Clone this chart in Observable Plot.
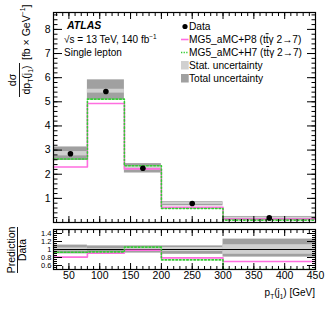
<!DOCTYPE html>
<html><head><meta charset="utf-8">
<script src="https://cdn.jsdelivr.net/npm/d3@7"></script>
<script src="https://cdn.jsdelivr.net/npm/@observablehq/plot@0.6"></script>
<style>
body{margin:0;background:#fff;}
#wrap{position:relative;width:332px;height:319px;font-family:"Liberation Sans",Arial,sans-serif;background:#fff;overflow:hidden;}
#wrap svg{position:absolute;left:0;}
</style></head><body><div id="wrap"></div>
<script>
// ---- data ----
const binLo = [25, 80, 140, 200, 300];
const binHi = [80, 140, 200, 300, 450];
const dataVal = [2.85, 5.43, 2.25, 0.79, 0.19];
const totUp  = [3.13, 5.91, 2.44, 0.86, 0.25];
const totDn  = [2.57, 5.08, 2.05, 0.69, 0.12];
const statUp = [2.94, 5.52, 2.33, 0.83, 0.22];
const statDn = [2.76, 5.36, 2.17, 0.75, 0.16];
const p8 = [2.30, 4.93, 2.22, 0.63, 0.14];
const h7 = [2.63, 5.11, 2.35, 0.58, 0.10];
// ratio panel (Prediction / Data)
const p8Ratio = [0.81, 0.91, 0.98, 0.79, 0.70];
const h7Ratio = [0.93, 0.94, 1.06, 0.74, 0.50];
const ratTotUp  = [1.11, 1.09, 1.09, 1.09, 1.26];
const ratTotDn  = [0.89, 0.91, 0.91, 0.88, 0.81];
const ratStatUp = [1.04, 1.02, 1.04, 1.05, 1.12];
const ratStatDn = [0.96, 0.98, 0.96, 0.95, 0.88];
const mainYMajor = [0,1,2,3,4,5,6,7,8];
const mainYLabels = [1,2,3,4,5,6,7,8];
const ratioYLabels = [0.6, 0.8, 1, 1.2, 1.4];
const xMajor = [50,100,150,200,250,300,350,400,450];

const PINK = "#ff6ee0", GREEN = "#33cc33", TOT = "#a0a0a0", STAT = "#d0d0d0";
const bins = binLo.map((lo,i)=>({lo, hi: binHi[i], mid:(lo+binHi[i])/2,
  data: dataVal[i], totUp: totUp[i], totDn: totDn[i], statUp: statUp[i], statDn: statDn[i],
  rTU: ratTotUp[i], rTD: ratTotDn[i], rSU: ratStatUp[i], rSD: ratStatDn[i]}));
const steps = vals => binLo.map((x,i)=>({x, y: vals[i]})).concat([{x: binHi[binHi.length-1], y: vals[vals.length-1]}]);
const rng = (a,b,s) => d3.range(Math.round((b-a)/s)+1).map(i=>+(a+i*s).toFixed(4));
const xMinor = rng(30, 450, 10);
const fontStyle = {fontFamily:"Liberation Sans, Arial, sans-serif", color:"black", background:"transparent", overflow:"visible"};

const tickMarks = (yMajor, yMinor, majLen, minLen, xMajLen, xMinLen) => [
  Plot.axisY(yMajor, {anchor:"left", tickSize:-majLen, text:null, label:null}),
  Plot.axisY(yMinor, {anchor:"left", tickSize:-minLen, text:null, label:null}),
  Plot.axisY(yMajor, {anchor:"right", tickSize:-majLen, text:null, label:null}),
  Plot.axisY(yMinor, {anchor:"right", tickSize:-minLen, text:null, label:null}),
  Plot.axisX(xMajor, {anchor:"bottom", tickSize:-xMajLen, text:null, label:null}),
  Plot.axisX(xMinor, {anchor:"bottom", tickSize:-xMinLen, text:null, label:null}),
  Plot.axisX(xMajor, {anchor:"top", tickSize:-xMajLen, text:null, label:null}),
  Plot.axisX(xMinor, {anchor:"top", tickSize:-xMinLen, text:null, label:null})
];

const main = Plot.plot({
  width: 332, height: 226, marginLeft: 53, marginRight: 17, marginTop: 12, marginBottom: 4,
  x: {domain: [25, 450]}, y: {domain: [0, 8.7]},
  style: {...fontStyle, fontSize: "10px"},
  marks: [
    Plot.rect(bins, {x1:"lo", x2:"hi", y1:"totDn", y2:"totUp", fill:TOT}),
    Plot.rect(bins, {x1:"lo", x2:"hi", y1:"statDn", y2:"statUp", fill:STAT}),
    Plot.line(steps(p8), {x:"x", y:"y", curve:"step-after", stroke:PINK, strokeWidth:1.6}),
    Plot.line(steps(h7), {x:"x", y:"y", curve:"step-after", stroke:GREEN, strokeWidth:1.6, strokeDasharray:"1.6,2"}),
    Plot.dot(bins, {x:"mid", y:"data", r:2.8, fill:"black"}),
    ...tickMarks(mainYMajor, rng(0, 8.6, 0.2), 9, 4.5, 6, 3),
    Plot.axisY(mainYLabels, {anchor:"left", tickSize:0, tickPadding:3, label:null, fontSize:10.5}),
    Plot.frame({stroke:"black", strokeWidth:1.2})
  ]
});
main.style.top = "0px";

const ratio = Plot.plot({
  width: 332, height: 93, marginLeft: 53, marginRight: 17, marginTop: 3, marginBottom: 50,
  x: {domain: [25, 450]}, y: {domain: [0.5, 1.5]},
  style: {...fontStyle, fontSize: "10px"},
  marks: [
    Plot.rect(bins, {x1:"lo", x2:"hi", y1:"rTD", y2:"rTU", fill:TOT}),
    Plot.rect(bins, {x1:"lo", x2:"hi", y1:"rSD", y2:"rSU", fill:STAT}),
    Plot.ruleY([1], {stroke:"black", strokeWidth:1.2}),
    Plot.line(steps(p8Ratio), {x:"x", y:"y", curve:"step-after", stroke:PINK, strokeWidth:1.6, clip:true}),
    Plot.line(steps(h7Ratio), {x:"x", y:"y", curve:"step-after", stroke:GREEN, strokeWidth:1.6, strokeDasharray:"1.6,2", clip:true}),
    ...tickMarks(ratioYLabels, rng(0.55, 1.45, 0.05), 9, 4, 6, 3),
    Plot.axisY(ratioYLabels, {anchor:"left", tickSize:0, tickPadding:2, label:null, fontSize:7.5, tickFormat: d=>String(d)}),
    Plot.axisX(xMajor, {anchor:"bottom", tickSize:0, tickPadding:2, label:null, fontSize:10.5}),
    Plot.frame({stroke:"black", strokeWidth:1.2})
  ]
});
ratio.style.top = "226px";

const wrap = document.getElementById("wrap");
wrap.appendChild(main);
wrap.appendChild(ratio);

// ---- overlay: titles, labels, legend ----
const ov = d3.select(wrap).append("svg").attr("width",332).attr("height",319).style("top","0px")
  .style("font-family","Liberation Sans, Arial, sans-serif").style("pointer-events","none");

function rich(sel, parts, size){
  parts.forEach(([t,k])=>{
    const ts = sel.append("tspan").text(t);
    if (k==="sub") ts.attr("font-size", size*0.65).attr("dy", size*0.3);
    else if (k==="sup") ts.attr("font-size", size*0.65).attr("dy", -size*0.4);
    else ts.attr("font-size", size);
  });
  const nodes = sel.selectAll("tspan").nodes();
  let shift = 0;
  nodes.forEach((n)=>{
    const dy = +n.getAttribute("dy")||0;
    if (!dy && shift){ n.setAttribute("dy", -shift); shift = 0; }
    else if (dy){ if (shift) { n.setAttribute("dy", dy - shift); } shift = dy; }
  });
  return sel;
}

// ATLAS block
ov.append("text").attr("x",67).attr("y",28.5).attr("font-size",10.5).attr("font-weight","bold").attr("font-style","italic").text("ATLAS");
rich(ov.append("text").attr("x",64).attr("y",43), [["√s = 13 TeV, 140 fb"],["−1","sup"]], 10);
ov.append("text").attr("x",64).attr("y",56).attr("font-size",10).text("Single lepton");

// Legend
const lx = 189, ls = 10.2;
ov.append("circle").attr("cx",185).attr("cy",26.5).attr("r",2.6).attr("fill","black");
ov.append("text").attr("x",lx).attr("y",30).attr("font-size",ls).text("Data");
ov.append("line").attr("x1",181).attr("x2",188.5).attr("y1",39.5).attr("y2",39.5).attr("stroke",PINK).attr("stroke-width",1.6);
ov.append("line").attr("x1",181).attr("x2",188.5).attr("y1",52.5).attr("y2",52.5).attr("stroke",GREEN).attr("stroke-width",1.3).attr("stroke-dasharray","1.3,1.3");
const mgLabel = (y, gen) => {
  const t = ov.append("text").attr("x",lx).attr("y",y).attr("font-size",ls);
  t.append("tspan").text(`MG5_aMC+${gen} (t`);
  t.append("tspan").attr("text-decoration","overline").style("text-decoration","overline").text("t");
  t.append("tspan").text("γ 2→7)");
};
mgLabel(43.2, "P8");
mgLabel(56, "H7");
ov.append("rect").attr("x",181).attr("y",61).attr("width",7.7).attr("height",8.5).attr("fill",STAT);
ov.append("text").attr("x",lx).attr("y",68.8).attr("font-size",ls).text("Stat. uncertainty");
ov.append("rect").attr("x",181).attr("y",74).attr("width",7.7).attr("height",8.5).attr("fill",TOT);
ov.append("text").attr("x",lx).attr("y",81.6).attr("font-size",ls).text("Total uncertainty");

// y title main (rotated)
const yt = ov.append("g").attr("transform","rotate(-90)");
yt.append("text").attr("x",-80).attr("y",16).attr("text-anchor","middle").attr("font-size",10.5).text("dσ");
yt.append("line").attr("x1",-97).attr("x2",-63).attr("y1",19.5).attr("y2",19.5).attr("stroke","black").attr("stroke-width",0.9);
rich(yt.append("text").attr("x",-80).attr("y",29.5).attr("text-anchor","middle"), [["dp"],["T","sub"],["(j"],["1","sub"],[")"]], 10.5);
rich(yt.append("text").attr("x",-60).attr("y",29.5), [["[fb × GeV"],["−1","sup"],["]"]], 10.5);

// ratio title
const rt = ov.append("g").attr("transform","rotate(-90)");
rt.append("text").attr("x",-250).attr("y",15).attr("text-anchor","middle").attr("font-size",10.5).text("Prediction");
rt.append("line").attr("x1",-273).attr("x2",-227).attr("y1",17.5).attr("y2",17.5).attr("stroke","black").attr("stroke-width",0.9);
rt.append("text").attr("x",-250).attr("y",25.5).attr("text-anchor","middle").attr("font-size",10.5).text("Data");

// x title
rich(ov.append("text").attr("x",315).attr("y",296).attr("text-anchor","end"), [["p"],["T","sub"],["(j"],["1","sub"],[") [GeV]"]], 10);
</script></body></html>
